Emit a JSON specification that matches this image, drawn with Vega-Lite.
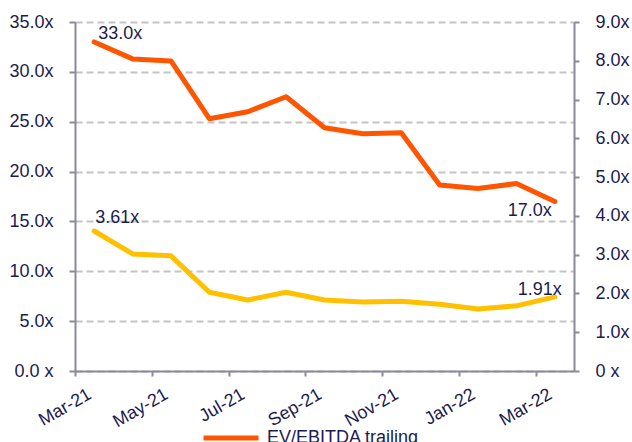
{
  "$schema": "https://vega.github.io/schema/vega-lite/v6.json",
  "width": 499,
  "height": 349,
  "autosize": {"type": "none"},
  "padding": {"left": 75, "top": 22, "right": 58, "bottom": 71},
  "background": "white",
  "config": {
    "view": {"stroke": null},
    "font": "Liberation Sans",
    "axis": {
      "title": null,
      "labelFont": "Liberation Sans",
      "labelFontSize": 18,
      "labelColor": "#1c1c50",
      "domainColor": "#8a8a9a",
      "domainWidth": 2,
      "tickColor": "#8a8a9a",
      "tickWidth": 2
    }
  },
  "data": {
    "values": [
      {"month": "Mar-21", "ev_ebitda": 33.0, "ev_sales": 3.61},
      {"month": "Apr-21", "ev_ebitda": 31.3, "ev_sales": 3.02},
      {"month": "May-21", "ev_ebitda": 31.1, "ev_sales": 2.97},
      {"month": "Jun-21", "ev_ebitda": 25.3, "ev_sales": 2.03},
      {"month": "Jul-21", "ev_ebitda": 26.0, "ev_sales": 1.83},
      {"month": "Aug-21", "ev_ebitda": 27.5, "ev_sales": 2.03},
      {"month": "Sep-21", "ev_ebitda": 24.4, "ev_sales": 1.83},
      {"month": "Oct-21", "ev_ebitda": 23.8, "ev_sales": 1.78},
      {"month": "Nov-21", "ev_ebitda": 23.9, "ev_sales": 1.80},
      {"month": "Dec-21", "ev_ebitda": 18.65, "ev_sales": 1.72},
      {"month": "Jan-22", "ev_ebitda": 18.3, "ev_sales": 1.60},
      {"month": "Feb-22", "ev_ebitda": 18.8, "ev_sales": 1.68},
      {"month": "Mar-22", "ev_ebitda": 17.0, "ev_sales": 1.91}
    ]
  },
  "encoding": {
    "x": {
      "field": "month",
      "type": "ordinal",
      "sort": null,
      "scale": {"type": "point", "padding": 0.5},
      "axis": {
        "values": ["Mar-21", "May-21", "Jul-21", "Sep-21", "Nov-21", "Jan-22", "Mar-22"],
        "labelAngle": -30,
        "tickOffset": -19.2,
        "labelOffset": 10,
        "tickSize": 5,
        "labelPadding": 9,
        "grid": false
      }
    }
  },
  "layer": [
    {
      "encoding": {
        "y": {
          "field": "ev_ebitda",
          "type": "quantitative",
          "scale": {"domain": [0, 35], "nice": false, "zero": true},
          "axis": {
            "orient": "left",
            "values": [0, 5, 10, 15, 20, 25, 30, 35],
            "labelExpr": "datum.value == 0 ? '0.0 x' : format(datum.value, '.1f') + 'x'",
            "grid": true,
            "gridColor": "#c4c4c4",
            "gridWidth": 2,
            "gridDash": [7, 4],
            "tickSize": 6,
            "labelPadding": 16
          }
        }
      },
      "layer": [
        {
          "mark": {"type": "line", "strokeWidth": 5, "strokeJoin": "round", "strokeCap": "round"},
          "encoding": {
            "color": {
              "datum": "EV/EBITDA trailing",
              "scale": {"range": ["#ff5500"]},
              "legend": {
                "title": null,
                "orient": "none",
                "legendX": 126,
                "legendY": 386,
                "padding": 0,
                "symbolType": "stroke",
                "symbolSize": 3025,
                "symbolStrokeWidth": 5,
                "labelFontSize": 18,
                "labelColor": "#1c1c50",
                "labelFont": "Liberation Sans",
                "labelOffset": 6
              }
            }
          }
        },
        {
          "transform": [
            {"filter": "datum.month == 'Mar-21'"},
            {"calculate": "format(datum.ev_ebitda, '.1f') + 'x'", "as": "lbl"}
          ],
          "mark": {"type": "text", "align": "left", "baseline": "alphabetic", "dx": 4, "dy": -3, "fontSize": 18, "color": "#1c1c50"},
          "encoding": {"text": {"field": "lbl"}}
        },
        {
          "transform": [
            {"filter": "datum.month == 'Mar-22'"},
            {"calculate": "format(datum.ev_ebitda, '.1f') + 'x'", "as": "lbl"}
          ],
          "mark": {"type": "text", "align": "right", "baseline": "top", "dx": -3, "dy": 1, "fontSize": 18, "color": "#1c1c50"},
          "encoding": {"text": {"field": "lbl"}}
        }
      ]
    },
    {
      "encoding": {
        "y": {
          "field": "ev_sales",
          "type": "quantitative",
          "scale": {"domain": [0, 9], "nice": false, "zero": true},
          "axis": {
            "orient": "right",
            "values": [0, 1, 2, 3, 4, 5, 6, 7, 8, 9],
            "labelExpr": "datum.value == 0 ? '0 x' : format(datum.value, '.1f') + 'x'",
            "grid": false,
            "tickSize": 5,
            "labelPadding": 16
          }
        }
      },
      "layer": [
        {
          "mark": {"type": "line", "strokeWidth": 5, "strokeJoin": "round", "strokeCap": "round", "color": "#ffc000"}
        },
        {
          "transform": [
            {"filter": "datum.month == 'Mar-21'"},
            {"calculate": "format(datum.ev_sales, '.2f') + 'x'", "as": "lbl"}
          ],
          "mark": {"type": "text", "align": "left", "baseline": "alphabetic", "dx": 1, "dy": -8, "fontSize": 18, "color": "#1c1c50"},
          "encoding": {"text": {"field": "lbl"}}
        },
        {
          "transform": [
            {"filter": "datum.month == 'Mar-22'"},
            {"calculate": "format(datum.ev_sales, '.2f') + 'x'", "as": "lbl"}
          ],
          "mark": {"type": "text", "align": "right", "baseline": "alphabetic", "dx": 7, "dy": -2, "fontSize": 18, "color": "#1c1c50"},
          "encoding": {"text": {"field": "lbl"}}
        }
      ]
    }
  ],
  "resolve": {"scale": {"y": "independent"}}
}
